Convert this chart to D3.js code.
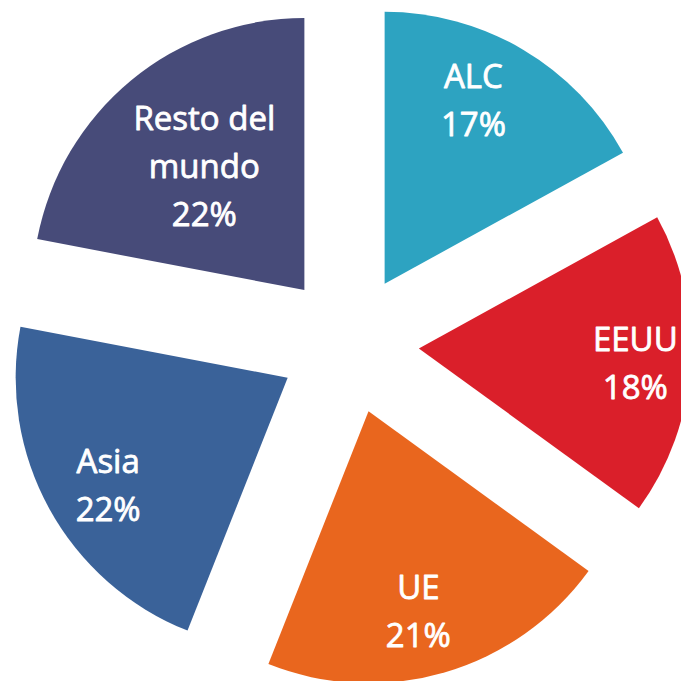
<!DOCTYPE html>
<html>
<head>
<meta charset="utf-8">
<script src="https://cdn.jsdelivr.net/npm/d3@7"></script>
<style>
  html, body { margin: 0; padding: 0; background: #ffffff; overflow: hidden; }
  svg { display: block; }
</style>
</head>
<body>
<div id="chart"></div>
<script>
// ---- data ----
const categories = ["ALC", "EEUU", "UE", "Asia", "Resto del mundo"];
const labelLines = [["ALC"], ["EEUU"], ["UE"], ["Asia"], ["Resto del", "mundo"]];
const values = [17, 18, 21, 22, 22];
const colors = ["#2DA3C1", "#DA1F2A", "#E9661E", "#3A6299", "#474B79"];

// ---- layout ----
const W = 681, H = 681;
const cx = 349, cy = 344;
const R = 272;          // slice radius
const explode = 70;     // distance each slice is pulled out
const labelR = 206;     // default label distance from slice apex
const fontSize = 33, lineH = 48;
// small per-label nudges (layout only)
const labelNudge = {
  "ALC": { da: -4.8, r: 204 },
  "EEUU": { da: 0.4, r: 217 },
  "UE": { da: 2.2, r: 206 },
  "Asia": { da: -2, r: 209 },
  "Resto del mundo": { da: 0.6, r: 159 }
};

const svg = d3.select("#chart").append("svg")
  .attr("width", W).attr("height", H)
  .attr("viewBox", `0 0 ${W} ${H}`);

const pie = d3.pie().sort(null).value(d => d.value);
const data = categories.map((c, i) => ({ name: c, value: values[i], lines: labelLines[i], color: colors[i] }));
const arcs = pie(data);
const arc = d3.arc().innerRadius(0).outerRadius(R);

const g = svg.append("g").attr("transform", `translate(${cx},${cy})`);

const slices = g.selectAll("g.slice").data(arcs).join("g")
  .attr("class", "slice")
  .attr("transform", d => {
    const a = (d.startAngle + d.endAngle) / 2;
    return `translate(${explode * Math.sin(a)},${-explode * Math.cos(a)})`;
  });

slices.append("path")
  .attr("d", arc)
  .attr("fill", d => d.data.color);

const total = d3.sum(values);

slices.each(function(d) {
  const nudge = labelNudge[d.data.name] || {};
  const a = (d.startAngle + d.endAngle) / 2 + (nudge.da || 0) * Math.PI / 180;
  const r = nudge.r || labelR;
  const lx = r * Math.sin(a), ly = -r * Math.cos(a);
  const lines = d.data.lines.concat([Math.round(d.data.value / total * 100) + "%"]);
  const n = lines.length;
  const t = d3.select(this).append("text")
    .attr("text-anchor", "middle")
    .attr("font-family", "'Open Sans', 'Noto Sans', sans-serif")
    .attr("font-size", fontSize)
    .attr("fill", "#ffffff")
    .attr("stroke", "#ffffff")
    .attr("stroke-width", 0.8)
    .attr("stroke-linejoin", "round");
  lines.forEach((ln, i) => {
    t.append("tspan")
      .attr("x", lx)
      .attr("y", ly + (i - (n - 1) / 2) * lineH + fontSize * 0.36)
      .text(ln);
  });
});
</script>
</body>
</html>
